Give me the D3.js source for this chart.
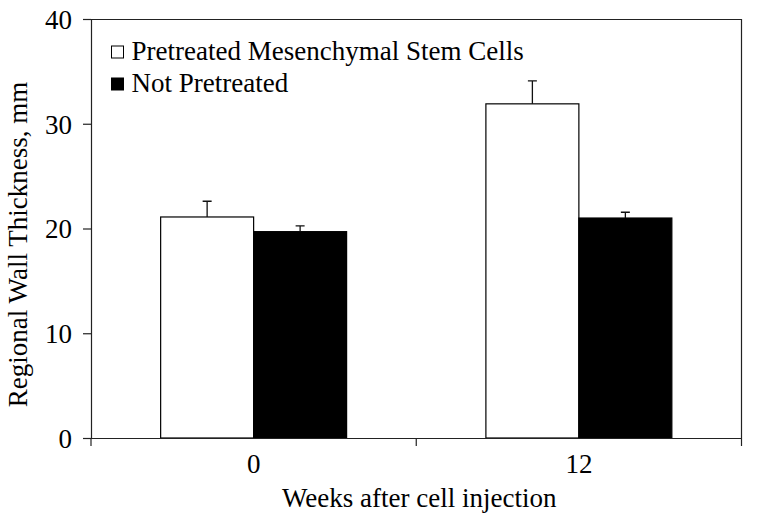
<!DOCTYPE html>
<html>
<head>
<meta charset="utf-8">
<script src="https://cdn.jsdelivr.net/npm/d3@7"></script>
<style>
  html, body { margin: 0; padding: 0; background: #ffffff; }
  svg { display: block; }
</style>
</head>
<body>
<svg id="chart" width="759" height="521"></svg>
<script>
// ---- data ----
const categories = ["0", "12"];
const seriesNames = ["Pretreated Mesenchymal Stem Cells", "Not Pretreated"];
const pretreatedValues = [21.1, 31.9];
const pretreatedErrors = [1.5, 2.2];
const notPretreatedValues = [19.7, 21.0];
const notPretreatedErrors = [0.55, 0.55];
const yTicks = [0, 10, 20, 30, 40];
const xTitle = "Weeks after cell injection";
const yTitle = "Regional Wall Thickness, mm";

const series = [
  { name: seriesNames[0], values: pretreatedValues, errors: pretreatedErrors, fill: "#ffffff" },
  { name: seriesNames[1], values: notPretreatedValues, errors: notPretreatedErrors, fill: "#000000" }
];

const W = 759, H = 521;
const margin = { left: 91, right: 17.5, top: 19, bottom: 83 };
const innerW = W - margin.left - margin.right;
const innerH = H - margin.top - margin.bottom;
const lineColor = "#222";
const fontSize = 27;
const FONT = "\"Liberation Serif\", \"Times New Roman\", Times, serif";

const svg = d3.select("#chart");
const g = svg.append("g").attr("transform", `translate(${margin.left},${margin.top})`);

const x = d3.scaleBand().domain(categories).range([0, innerW]).paddingInner(0).paddingOuter(0);
const xs = d3.scaleBand().domain(d3.range(series.length)).range([0, x.bandwidth()]).paddingInner(0).paddingOuter(0.749);
const y = d3.scaleLinear().domain([0, 40]).range([innerH, 0]);

// plot frame (top and right)
g.append("path")
  .attr("d", `M0,0.5H${innerW}V${innerH}`)
  .attr("fill", "none").attr("stroke", lineColor).attr("stroke-width", 1.2);

// bars
series.forEach((s, si) => {
  const grp = g.append("g");
  grp.selectAll("rect").data(categories).join("rect")
    .attr("x", c => x(c) + xs(si))
    .attr("y", (c, i) => y(s.values[i]))
    .attr("width", xs.bandwidth())
    .attr("height", (c, i) => innerH - y(s.values[i]))
    .attr("fill", s.fill)
    .attr("stroke", "#000")
    .attr("stroke-width", 1.2);
  grp.selectAll("path.err").data(categories).join("path")
    .attr("class", "err")
    .attr("d", (c, i) => {
      const cx = x(c) + xs(si) + xs.bandwidth() / 2;
      const y0 = y(s.values[i]);
      const y1 = y(s.values[i] + s.errors[i]);
      return `M${cx},${y0}V${y1}M${cx - 4.5},${y1}H${cx + 4.5}`;
    })
    .attr("fill", "none").attr("stroke", "#111").attr("stroke-width", 1.3);
});

function styleText(sel) {
  return sel.style("font-family", FONT).style("font-size", fontSize + "px").style("fill", "#000");
}

// y axis
const yAxis = g.append("g")
  .call(d3.axisLeft(y).tickValues(yTicks).tickSizeInner(8).tickSizeOuter(0).tickPadding(11).tickFormat(d3.format("d")));
yAxis.select(".domain").attr("stroke", lineColor).attr("stroke-width", 1.2);
yAxis.selectAll(".tick line").attr("stroke", lineColor).attr("stroke-width", 1.2);
styleText(yAxis.selectAll(".tick text")).attr("dy", "0.35em");

// x axis: labels at category centres, ticks at category boundaries
const xAxis = g.append("g").attr("transform", `translate(0,${innerH})`)
  .call(d3.axisBottom(x).tickSize(0).tickPadding(35));
xAxis.select(".domain").attr("d", `M0,0.5H${innerW}`).attr("stroke", lineColor).attr("stroke-width", 1.2);
styleText(xAxis.selectAll(".tick text")).attr("dy", "0");
const bounds = categories.map(c => x(c)).concat([x(categories[categories.length - 1]) + x.step()]);
xAxis.selectAll("line.bound").data(bounds).join("line")
  .attr("class", "bound")
  .attr("x1", d => d).attr("x2", d => d)
  .attr("y1", 0).attr("y2", 8)
  .attr("stroke", lineColor).attr("stroke-width", 1.2);

// axis titles
styleText(svg.append("text"))
  .attr("x", margin.left + innerW / 2 + 3)
  .attr("y", 506.5)
  .attr("text-anchor", "middle")
  .text(xTitle);

styleText(svg.append("text"))
  .attr("transform", `translate(27,${244.5}) rotate(-90)`)
  .attr("text-anchor", "middle")
  .text(yTitle);

// legend
const legend = svg.append("g").attr("transform", "translate(111,45.5)");
series.forEach((s, i) => {
  legend.append("rect")
    .attr("x", 0.5).attr("y", i * 32 + 0.5)
    .attr("width", 12).attr("height", 12)
    .attr("fill", s.fill).attr("stroke", "#000").attr("stroke-width", 1);
  styleText(legend.append("text"))
    .attr("x", 20.5).attr("y", i * 32 + 14.5)
    .text(s.name);
});
</script>
</body>
</html>
